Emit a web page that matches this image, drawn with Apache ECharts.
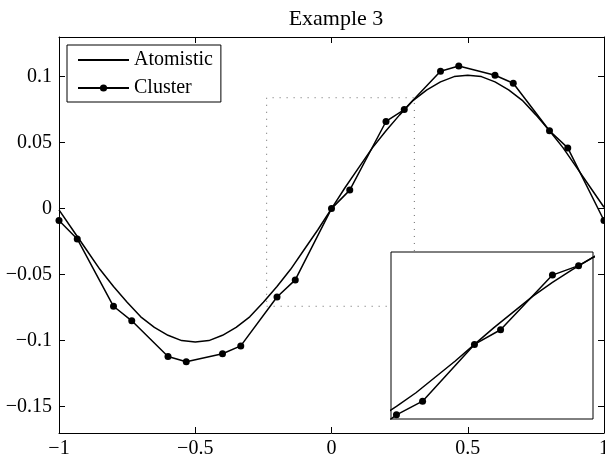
<!DOCTYPE html>
<html>
<head>
<meta charset="utf-8">
<script src="https://cdn.jsdelivr.net/npm/echarts@6/dist/echarts.min.js"></script>
<style>
html,body{margin:0;padding:0;background:#fff;}
#chart{width:605px;height:466px;}
</style>
</head>
<body>
<div id="chart"></div>
<script>
// ---- data ----
const titleText = 'Example 3';
const atomX = [-1,-0.95,-0.9,-0.85,-0.8,-0.75,-0.7,-0.65,-0.6,-0.55,-0.5,-0.45,-0.4,-0.35,-0.3,-0.25,-0.2,-0.15,-0.1,-0.05,0,
               0.05,0.1,0.15,0.2,0.25,0.3,0.35,0.4,0.45,0.5,0.55,0.6,0.65,0.7,0.75,0.8,0.85,0.9,0.95,1];
const atomY = [-0.001,-0.016,-0.031,-0.046,-0.059,-0.071,-0.082,-0.090,-0.096,-0.100,-0.101,-0.100,-0.096,-0.090,-0.082,-0.071,-0.059,-0.046,-0.031,-0.016,0.000,
               0.016,0.031,0.046,0.059,0.071,0.082,0.090,0.096,0.100,0.101,0.100,0.096,0.090,0.082,0.071,0.059,0.046,0.031,0.016,0.001];
const clusterX = [-1,-0.933,-0.8,-0.733,-0.6,-0.533,-0.4,-0.333,-0.2,-0.133,0,0.067,0.2,0.267,0.4,0.467,0.6,0.667,0.8,0.867,1];
const clusterY = [-0.009,-0.023,-0.074,-0.085,-0.112,-0.116,-0.110,-0.104,-0.067,-0.054,0,0.014,0.066,0.075,0.104,0.108,0.101,0.095,0.059,0.046,-0.009];
const xTicks = [-1,-0.5,0,0.5,1];
const xTickLabels = ['\u22121','\u22120.5','0','0.5','1'];
const yTicks = [-0.15,-0.1,-0.05,0,0.05,0.1];
const yTickLabels = ['\u22120.15','\u22120.1','\u22120.05','0','0.05','0.1'];
const xRange = [-1, 1];
const yRange = [-0.17, 0.13];
const zoomBoxX = [-0.238, 0.304];
const zoomBoxY = [-0.074, 0.084];
const insetXRange = [-0.214, 0.304];
const insetYRange = [-0.071, 0.088];
const seriesNames = ['Atomistic','Cluster'];

// ---- build ----
const pair = (xs, ys) => xs.map((x, i) => [x, ys[i]]);
const atomData = pair(atomX, atomY);
const clusterData = pair(clusterX, clusterY);
const boxData = [[zoomBoxX[0],zoomBoxY[0]],[zoomBoxX[1],zoomBoxY[0]],[zoomBoxX[1],zoomBoxY[1]],[zoomBoxX[0],zoomBoxY[1]],[zoomBoxX[0],zoomBoxY[0]]];

const FONT = 'Liberation Serif';
const xLabelMap = {}; xTicks.forEach((v,i)=>xLabelMap[v.toFixed(3)] = xTickLabels[i]);
const yLabelMap = {}; yTicks.forEach((v,i)=>yLabelMap[v.toFixed(3)] = yTickLabels[i]);

const axisLine = {show: true, onZero: false, lineStyle: {color: '#000', width: 1}};
const tickIn = {show: true, inside: true, length: 6, lineStyle: {color: '#000', width: 1}};

const chart = echarts.init(document.getElementById('chart'), null, {renderer: 'canvas'});
chart.setOption({
  animation: false,
  backgroundColor: '#fff',
  title: {
    text: titleText, left: 331, top: 3, textAlign: 'center',
    textStyle: {fontFamily: FONT, fontSize: 22, fontWeight: 'normal', color: '#000'}
  },
  legend: {
    data: [
      {name: seriesNames[0], itemStyle: {color: 'rgba(0,0,0,0)', borderWidth: 0, opacity: 0}},
      {name: seriesNames[1]}
    ],
    orient: 'vertical', left: 67, top: 45,
    padding: [5, 8, 4, 10], itemGap: 8, itemWidth: 51, itemHeight: 9,
    backgroundColor: '#fff', borderColor: '#000', borderWidth: 1, borderRadius: 0,
    textStyle: {fontFamily: FONT, fontSize: 20, color: '#000'},
    selectedMode: false
  },
  grid: [
    {left: 59, right: 1, top: 37, bottom: 33, show: false, outerBoundsMode: 'none', containLabel: false},
    {left: 391, right: 12, top: 252, bottom: 47, show: true, backgroundColor: '#fff', borderColor: '#000', borderWidth: 1, z: 5, outerBoundsMode: 'none', containLabel: false}
  ],
  xAxis: [
    {type: 'value', gridIndex: 0, min: xRange[0], max: xRange[1], interval: 0.5, position: 'bottom',
     axisLine: axisLine, axisTick: tickIn, splitLine: {show: false},
     axisLabel: {margin: 6, fontFamily: FONT, fontSize: 20, color: '#000',
       formatter: v => xLabelMap[v.toFixed(3)] || ''}},
    {type: 'value', gridIndex: 0, min: xRange[0], max: xRange[1], interval: 0.5, position: 'top',
     axisLine: axisLine, axisTick: tickIn, splitLine: {show: false}, axisLabel: {show: false}},
    {type: 'value', gridIndex: 1, min: insetXRange[0], max: insetXRange[1],
     axisLine: {show: false}, axisTick: {show: false}, splitLine: {show: false}, axisLabel: {show: false}}
  ],
  yAxis: [
    {type: 'value', gridIndex: 0, min: yRange[0], max: yRange[1], position: 'left',
     axisLine: axisLine, splitLine: {show: false},
     axisTick: Object.assign({}, tickIn, {customValues: yTicks}),
     axisLabel: {margin: 7, fontFamily: FONT, fontSize: 20, color: '#000', customValues: yTicks,
       formatter: v => yLabelMap[v.toFixed(3)] || ''}},
    {type: 'value', gridIndex: 0, min: yRange[0], max: yRange[1], position: 'right',
     axisLine: axisLine, splitLine: {show: false},
     axisTick: Object.assign({}, tickIn, {customValues: yTicks}),
     axisLabel: {show: false}},
    {type: 'value', gridIndex: 1, min: insetYRange[0], max: insetYRange[1],
     axisLine: {show: false}, axisTick: {show: false}, splitLine: {show: false}, axisLabel: {show: false}}
  ],
  series: [
    {name: 'zoombox', type: 'line', xAxisIndex: 0, yAxisIndex: 0, data: boxData, symbol: 'none',
     lineStyle: {color: '#666', width: 1, type: [1, 6]}, silent: true, z: 1},
    {name: seriesNames[0], type: 'line', xAxisIndex: 0, yAxisIndex: 0, data: atomData, symbol: 'none',
     lineStyle: {color: '#000', width: 1.5}, itemStyle: {color: '#000'}, z: 2},
    {name: seriesNames[1], type: 'line', xAxisIndex: 0, yAxisIndex: 0, data: clusterData,
     symbol: 'circle', symbolSize: 7, showAllSymbol: true,
     lineStyle: {color: '#000', width: 1.5}, itemStyle: {color: '#000'}, z: 3},
    {name: seriesNames[0], type: 'line', xAxisIndex: 2, yAxisIndex: 2, data: atomData, symbol: 'none', clip: true,
     lineStyle: {color: '#000', width: 1.5}, itemStyle: {color: '#000'}, z: 6},
    {name: seriesNames[1], type: 'line', xAxisIndex: 2, yAxisIndex: 2, data: clusterData, clip: true,
     symbol: 'circle', symbolSize: 7, showAllSymbol: true,
     lineStyle: {color: '#000', width: 1.5}, itemStyle: {color: '#000'}, z: 7}
  ]
});
</script>
</body>
</html>
